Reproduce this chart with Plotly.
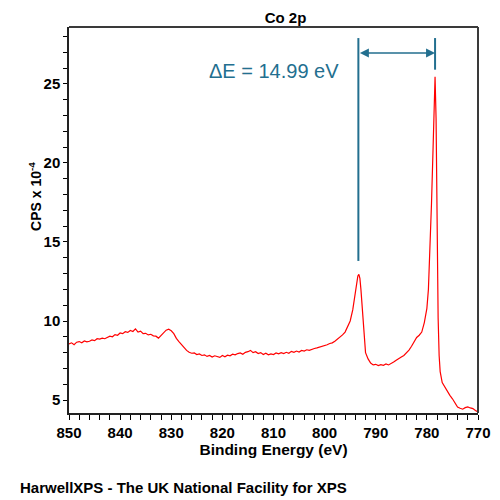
import plotly.graph_objects as go

# Co 2p spectrum
binding_energy = [
    850.0, 849.5, 849.0, 848.5, 848.0, 847.5, 847.0, 846.5, 846.0, 845.5,
    845.0, 844.5, 844.0, 843.5, 843.0, 842.5, 842.0, 841.5, 841.0, 840.5,
    840.0, 839.5, 839.0, 838.5, 838.0, 837.5, 837.0, 836.5, 836.0, 835.5,
    835.0, 834.5, 834.0, 833.5, 833.0, 832.5, 832.0, 831.5, 831.0, 830.5,
    830.0, 829.5, 829.0, 828.5, 828.0, 827.5, 827.0, 826.5, 826.0, 825.5,
    825.0, 824.5, 824.0, 823.5, 823.0, 822.5, 822.0, 821.5, 821.0, 820.5,
    820.0, 819.5, 819.0, 818.5, 818.0, 817.5, 817.0, 816.5, 816.0, 815.5,
    815.0, 814.5, 814.0, 813.5, 813.0, 812.5, 812.0, 811.5, 811.0, 810.5,
    810.0, 809.5, 809.0, 808.5, 808.0, 807.5, 807.0, 806.5, 806.0, 805.5,
    805.0, 804.5, 804.0, 803.5, 803.0, 802.5, 802.0, 801.5, 801.0, 800.5,
    800.0, 799.5, 799.0, 798.5, 798.0, 797.5, 797.0, 796.5, 796.0, 795.5,
    795.0, 794.5, 794.0, 793.7, 793.5, 793.3, 793.1, 792.9, 792.7, 792.5,
    792.3, 792.0, 791.5, 791.0, 790.5, 790.0, 789.5, 789.0, 788.5, 788.0,
    787.5, 787.0, 786.5, 786.0, 785.5, 785.0, 784.5, 784.0, 783.5, 783.0,
    782.5, 782.0, 781.5, 781.0, 780.5, 780.0, 779.7, 779.4, 779.1, 778.8,
    778.6, 778.4, 778.2, 778.0, 777.8, 777.6, 777.4, 777.0, 776.5, 776.0,
    775.5, 775.0, 774.5, 774.0, 773.5, 773.0, 772.5, 772.0, 771.5, 771.0,
    770.5, 770.0,
]
cps = [
    8.55, 8.62, 8.50, 8.66, 8.70, 8.62, 8.74, 8.68, 8.72, 8.80,
    8.76, 8.88, 8.86, 8.92, 8.88, 8.98, 9.04, 9.00, 9.14, 9.10,
    9.24, 9.20, 9.32, 9.28, 9.40, 9.34, 9.50, 9.30, 9.36, 9.20,
    9.22, 9.12, 9.16, 9.06, 9.04, 8.92, 9.10, 9.30, 9.42, 9.48,
    9.38, 9.20, 8.90, 8.70, 8.50, 8.32, 8.14, 8.02, 7.96, 7.98,
    7.88, 7.92, 7.82, 7.86, 7.76, 7.82, 7.72, 7.80, 7.76, 7.70,
    7.82, 7.74, 7.84, 7.80, 7.90, 7.86, 7.94, 7.98, 7.90, 8.02,
    8.06, 8.14, 8.00, 8.06, 7.94, 8.00, 7.88, 7.96, 7.86, 7.92,
    7.88, 7.98, 7.92, 8.00, 7.94, 8.02, 7.96, 8.08, 8.02, 8.10,
    8.04, 8.14, 8.10, 8.18, 8.14, 8.22, 8.26, 8.30, 8.34, 8.38,
    8.44, 8.50, 8.58, 8.62, 8.72, 8.84, 8.96, 9.12, 9.30, 9.60,
    10.00, 10.70, 11.70, 12.40, 12.85, 12.95, 12.70, 12.00, 11.00, 9.90,
    8.80, 8.00, 7.60, 7.34, 7.22, 7.26, 7.18, 7.24, 7.20, 7.28,
    7.22, 7.30, 7.40, 7.52, 7.60, 7.72, 7.82, 7.96, 8.16, 8.40,
    8.66, 8.96, 9.10, 9.30, 9.90, 10.80, 12.00, 14.20, 17.40, 20.80,
    23.60, 25.45, 22.80, 16.00, 10.20, 7.80, 6.80, 6.10, 5.80, 5.50,
    5.30, 5.08, 4.80, 4.56, 4.48, 4.42, 4.52, 4.56, 4.50, 4.46,
    4.34, 4.24,
]

# peak positions used for the delta E marker
peak_2p12 = 793.4
peak_2p32 = 778.4
delta_label = "ΔE = 14.99 eV"

marker_col = "#236f8f"
frame_col = "#3a3a3a"
font_name = "Liberation Sans, Arial, sans-serif"

fig = go.Figure()
fig.add_trace(go.Scatter(
    x=binding_energy, y=cps,
    mode="lines",
    line=dict(color="red", width=1.2),
    showlegend=False,
))

# frame: top and right edges of the plot box
fig.add_shape(type="line", xref="x domain", yref="y domain", x0=0, x1=1, y0=1, y1=1,
              line=dict(color=frame_col, width=2))
fig.add_shape(type="line", xref="x domain", yref="y domain", x0=1, x1=1, y0=0, y1=1,
              line=dict(color=frame_col, width=2))
# vertical markers
fig.add_shape(type="line", x0=peak_2p12, x1=peak_2p12, y0=13.8, y1=27.9,
              line=dict(color=marker_col, width=2))
fig.add_shape(type="line", x0=peak_2p32, x1=peak_2p32, y0=25.9, y1=27.9,
              line=dict(color=marker_col, width=2))
# double arrow
fig.add_annotation(
    x=peak_2p32, y=26.96, ax=peak_2p12, ay=26.96,
    xref="x", yref="y", axref="x", ayref="y",
    text="", showarrow=True, arrowhead=2, arrowside="end+start",
    arrowsize=1.2, arrowwidth=1.5, arrowcolor=marker_col,
)
fig.add_annotation(
    x=810.0, y=25.82, xref="x", yref="y", text=delta_label,
    showarrow=False, font=dict(family=font_name, size=20, color=marker_col),
)
# y axis title as annotation (sits a bit above plot middle in the original)
fig.add_annotation(
    x=-0.083, y=0.56, xref="paper", yref="paper",
    xanchor="center", yanchor="middle", showarrow=False, textangle=-90,
    text="<b>CPS x 10<sup>-4</sup></b>",
    font=dict(family=font_name, size=14, color="black"),
)
fig.add_annotation(
    x=-0.125, y=-0.194, xref="paper", yref="paper",
    xanchor="left", yanchor="middle", showarrow=False,
    text="<b>HarwellXPS - The UK National Facility for XPS</b>",
    font=dict(family=font_name, size=15, color="black"),
)

fig.update_layout(
    width=500, height=500,
    margin=dict(l=61, r=30, t=19, b=95),
    paper_bgcolor="white", plot_bgcolor="white",
    font=dict(family=font_name, color="black"),
    title=dict(text="<b>Co 2p</b>", x=0.555, xanchor="center", y=0.98, yanchor="middle",
               font=dict(family=font_name, size=15, color="black")),
)
fig.update_xaxes(
    range=[850, 770], tickvals=[850, 840, 830, 820, 810, 800, 790, 780, 770],
    ticktext=["<b>%d</b>" % v for v in [850, 840, 830, 820, 810, 800, 790, 780, 770]],
    showline=True, linecolor="#222222", linewidth=1.5,
    ticks="outside", ticklen=5, tickwidth=1, tickcolor="black",
    minor=dict(dtick=2, ticks="outside", ticklen=5, tickcolor="black"),
    showgrid=False, zeroline=False,
    tickfont=dict(family=font_name, size=15),
    title=dict(text="<b>Binding Energy (eV)</b>", standoff=4,
               font=dict(family=font_name, size=15.5)),
)
fig.update_yaxes(
    range=[4.18, 28.6], tickvals=[5, 10, 15, 20, 25],
    ticktext=["<b>%d</b>" % v for v in [5, 10, 15, 20, 25]],
    showline=True, linecolor="#222222", linewidth=1.5,
    ticks="outside", ticklen=4, tickwidth=1, tickcolor="black",
    minor=dict(dtick=1, ticks="outside", ticklen=4, tickcolor="black"),
    showgrid=False, zeroline=False,
    tickfont=dict(family=font_name, size=15),
)

fig.write_html("out.html")
